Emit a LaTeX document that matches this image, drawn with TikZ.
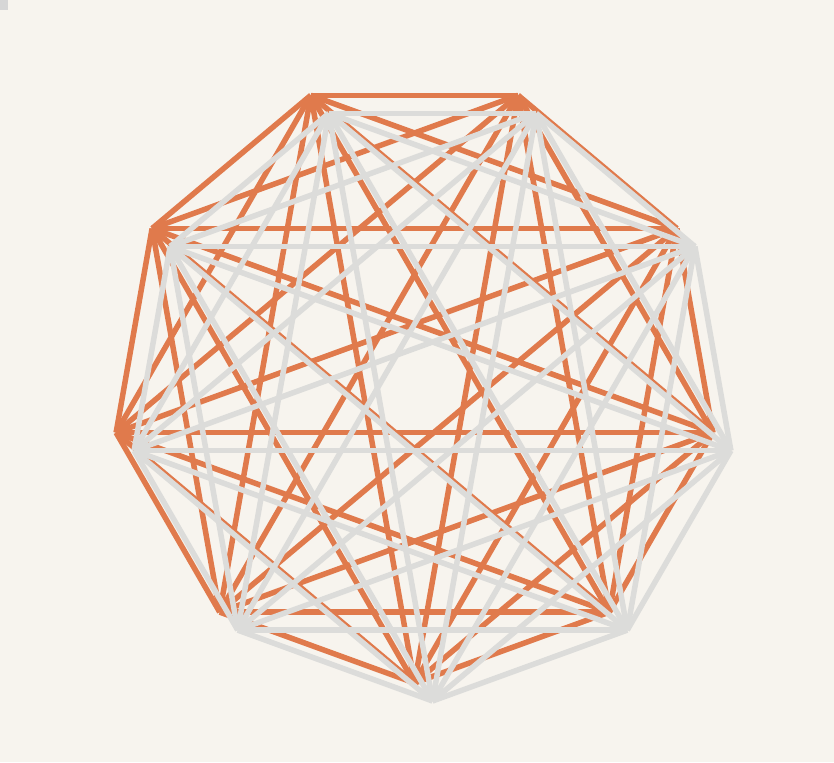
\documentclass[tikz,border=0pt]{standalone}
\definecolor{bg}{RGB}{247,244,238}
\definecolor{edgeorange}{RGB}{224,122,76}
\definecolor{edgegrey}{RGB}{220,220,218}
\definecolor{markgrey}{RGB}{214,214,214}
\begin{document}
\begin{tikzpicture}[x=1pt,y=-1pt,
  orangeedge/.style={draw=edgeorange,line width=5.5pt},
  greyedge/.style={draw=edgegrey,line width=5.5pt}]
\fill[bg] (0,0) rectangle (834,762);
\useasboundingbox (0,0) rectangle (834,762);
\fill[markgrey] (0,0) rectangle (8,10);
% orange nonagon vertices
\foreach \i in {0,...,8}{
  \coordinate (o\i) at ({414.5+303*cos(-90-40*\i)},{380-303*sin(-90-40*\i)});
  \coordinate (g\i) at ({432.5+303*cos(-90-40*\i)},{398-303*sin(-90-40*\i)});
}
\foreach \i in {0,...,7}{
  \pgfmathtruncatemacro{\s}{\i+1}
  \foreach \j in {\s,...,8}{
    \draw[orangeedge] (o\i) -- (o\j);
  }
}
\foreach \i in {0,...,7}{
  \pgfmathtruncatemacro{\s}{\i+1}
  \foreach \j in {\s,...,8}{
    \draw[greyedge] (g\i) -- (g\j);
  }
}
\end{tikzpicture}
\end{document}
